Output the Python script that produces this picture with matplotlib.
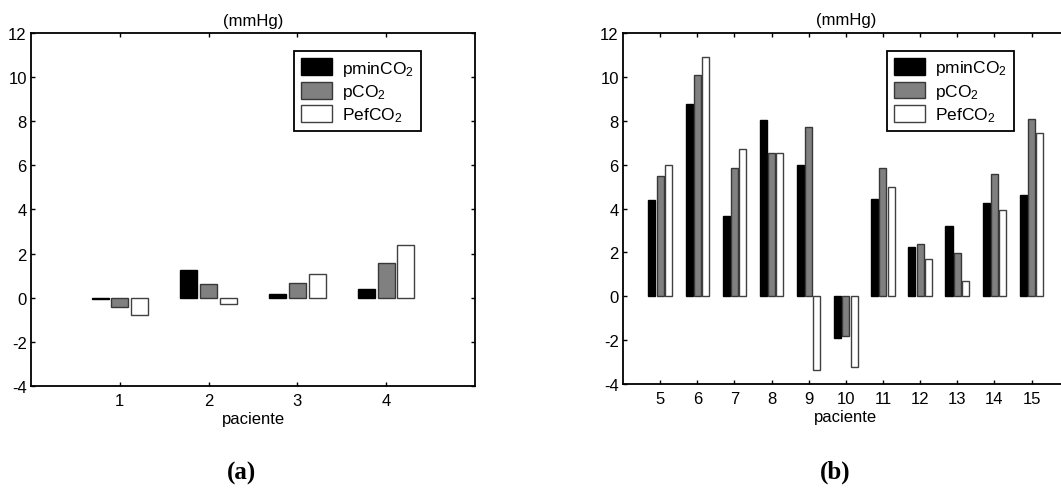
import matplotlib
matplotlib.use("Agg")
import matplotlib.pyplot as plt
import numpy as np

plt.rcParams['font.family'] = ['Liberation Sans', 'DejaVu Sans']
plt.rcParams['mathtext.fontset'] = 'custom'
plt.rcParams['mathtext.rm'] = 'Liberation Sans'
plt.rcParams['mathtext.it'] = 'Liberation Sans'
plt.rcParams['axes.unicode_minus'] = False

# patients and CO2 gaps (mmHg)
pacientes_a = [1, 2, 3, 4]
pmin_a = [-0.05, 1.27, 0.15, 0.41]
pco2_a = [-0.41, 0.61, 0.68, 1.58]
pef_a = [-0.76, -0.27, 1.09, 2.38]

pacientes_b = [5, 6, 7, 8, 9, 10, 11, 12, 13, 14, 15]
pmin_b = [4.38, 8.75, 3.67, 8.03, 5.99, -1.90, 4.44, 2.27, 3.21, 4.27, 4.62]
pco2_b = [5.48, 10.08, 5.86, 6.52, 7.73, -1.78, 5.83, 2.37, 1.98, 5.58, 8.08]
pef_b = [5.96, 10.90, 6.72, 6.52, -3.35, -3.21, 5.00, 1.69, 0.70, 3.94, 7.42]

series_labels = ['pminCO$_2$', 'pCO$_2$', 'PefCO$_2$']
face_colors = ['black', '#808080', 'white']
edge_colors = ['black', '#383838', '#404040']

fig = plt.figure(figsize=(10.61, 4.89), dpi=100)


def grouped_bars(ax, x, series, xlim):
    x = np.asarray(x, dtype=float)
    offsets = [-0.222, 0.0, 0.222]
    for vals, off, fc, ec, lab in zip(series, offsets, face_colors, edge_colors, series_labels):
        ax.bar(x + off, vals, width=0.19, color=fc, edgecolor=ec, linewidth=1.0, label=lab)
    ax.set_xlim(*xlim)
    ax.set_ylim(-4, 12)
    ax.set_xticks(x)
    ax.set_xticklabels([str(int(v)) for v in x])
    ax.set_yticks(np.arange(-4, 13, 2))
    ax.tick_params(direction='in', length=3, width=1, top=True, right=True,
                   labelsize=12, pad=3)
    ax.tick_params(axis='x', pad=5)
    for sp in ax.spines.values():
        sp.set_linewidth(1.3)
    ax.set_title('(mmHg)', fontsize=12, pad=6)
    ax.set_xlabel('paciente', fontsize=12, labelpad=2)
    leg = ax.legend(loc='upper left', bbox_to_anchor=(0.592, 0.948), fontsize=12.5,
                    frameon=True, fancybox=False, framealpha=1, edgecolor='black',
                    handlelength=1.8, handleheight=1.1, handletextpad=0.6,
                    labelspacing=0.25, borderpad=0.4, borderaxespad=0)
    leg.get_frame().set_linewidth(1.3)


ax1 = fig.add_axes([0.0292, 0.2086, 0.4185, 0.7219])
grouped_bars(ax1, pacientes_a, [pmin_a, pco2_a, pef_a], (0, 5))

ax2 = fig.add_axes([0.5872, 0.2120, 0.4200, 0.7190])
grouped_bars(ax2, pacientes_b, [pmin_b, pco2_b, pef_b], (4, 16))

fig.text(242 / 1061, 1 - 473 / 489, '(a)', ha='center', va='center',
         fontsize=18, fontweight='bold', family='Liberation Serif')
fig.text(835 / 1061, 1 - 472 / 489, '(b)', ha='center', va='center',
         fontsize=18, fontweight='bold', family='Liberation Serif')

fig.savefig('out.png', dpi=100)
